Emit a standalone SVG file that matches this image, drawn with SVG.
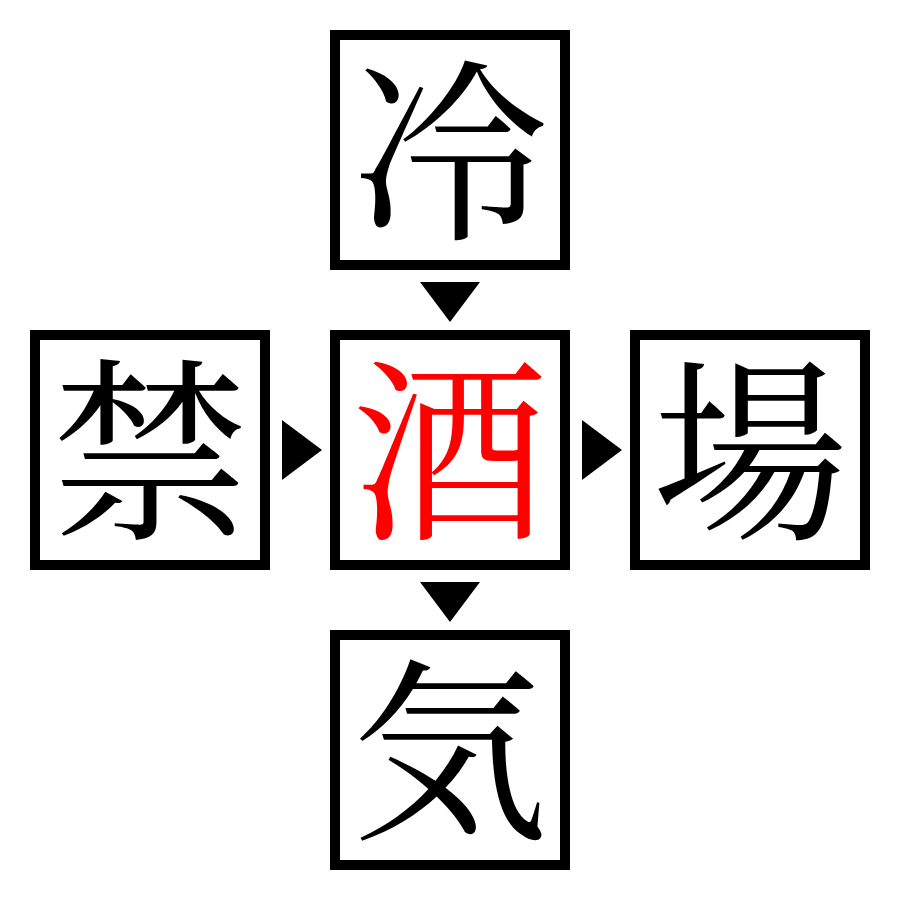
<svg xmlns="http://www.w3.org/2000/svg" width="900" height="900" viewBox="0 0 900 900">
<style>
.box{fill:#fff;stroke:#000;stroke-width:10}
.ch{font-family:"Noto Serif CJK JP","Noto Sans CJK JP",serif;font-size:196px;text-anchor:middle;fill:#000}
.red{fill:#ff0000}
.arr{fill:#000}
</style>
<rect width="900" height="900" fill="#fff"/>
<g id="node-top"><rect class="box" x="335" y="35" width="230" height="230"/><text class="ch" x="450" y="224">冷</text></g>
<g id="node-left"><rect class="box" x="35" y="335" width="230" height="230"/><text class="ch" x="150" y="524">禁</text></g>
<g id="node-center"><rect class="box" x="335" y="335" width="230" height="230"/><text class="ch red" x="450" y="524">酒</text></g>
<g id="node-right"><rect class="box" x="635" y="335" width="230" height="230"/><text class="ch" x="750" y="524">場</text></g>
<g id="node-bottom"><rect class="box" x="335" y="635" width="230" height="230"/><text class="ch" x="450" y="824">気</text></g>
<g id="connectors">
<polygon class="arr" points="420,282 480,282 450,322"/>
<polygon class="arr" points="282,420 282,480 322,450"/>
<polygon class="arr" points="582,420 582,480 622,450"/>
<polygon class="arr" points="420,582 480,582 450,622"/>
</g>
</svg>
